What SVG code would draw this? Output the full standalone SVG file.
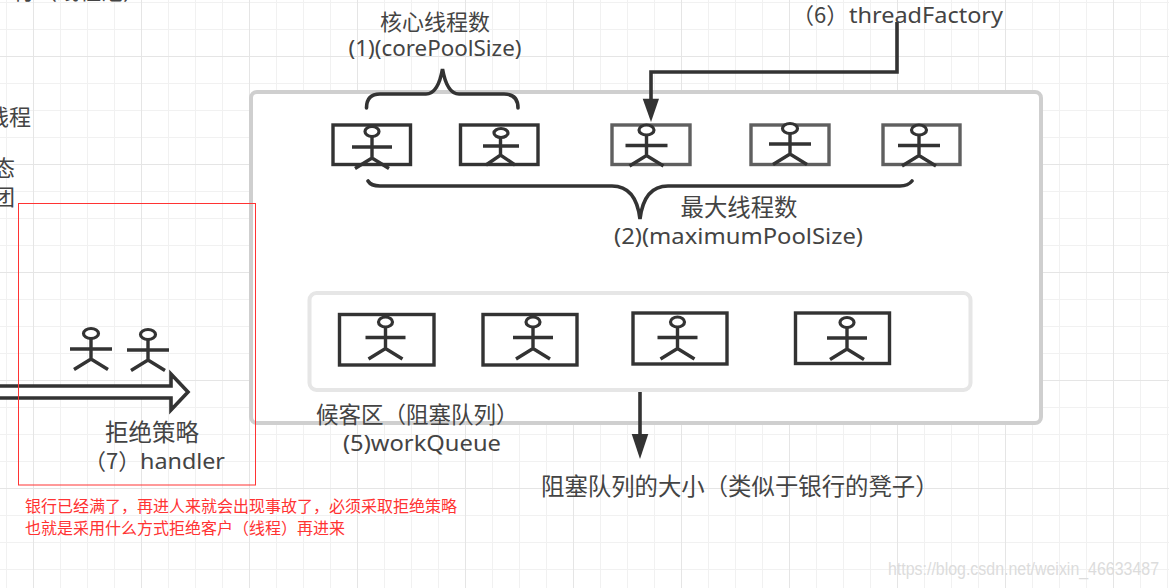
<svg xmlns="http://www.w3.org/2000/svg" width="1169" height="588" viewBox="0 0 1169 588">
<style>
text{font-family:"Noto Sans","Noto Sans CJK SC",sans-serif;fill:#444;font-size:22px}
.z{font-family:"Noto Sans CJK SC",sans-serif}
.m{text-anchor:middle}
.r{fill:#f33;font-size:16px;font-family:"Noto Sans CJK SC",sans-serif}
.box{fill:#fff;stroke:#333;stroke-width:3.4}
.g{stroke:#5f5f5f}
.a{fill:none;stroke:#333;stroke-width:3.4}
.ah{fill:#fff;stroke:#333;stroke-width:3.2}
.c{fill:none;stroke:#333;stroke-width:3.6;stroke-linecap:round}
</style>
<defs>
<pattern id="grid" width="108" height="108" patternUnits="userSpaceOnUse" x="33" y="56">
<path d="M0 27.5H108M0 54.5H108M0 81.5H108M27.5 0V108M54.5 0V108M81.5 0V108" fill="none" stroke="#f1f1f1" stroke-width="1"/>
<path d="M0 .5H108M.5 0V108" fill="none" stroke="#e5e5e5" stroke-width="1"/>
</pattern>
<g id="actor">
<ellipse cx="0" cy="0" rx="7" ry="5" class="ah"/>
<path d="M0 5V26M-20 15.500H20M-17 37L0 26.500L17 37" class="a"/>
</g>
<g id="actorw">
<ellipse cx="0" cy="0" rx="7.500" ry="5" class="ah"/>
<path d="M0 5V25M-21 15.500H21M-17 36L0 25.500L17 36" class="a"/>
</g>
</defs>
<rect width="1169" height="588" fill="#fff"/>
<rect width="1169" height="588" fill="url(#grid)"/>

<g id="left-labels">
<text class="z" x="145" y="-1" text-anchor="end">行（线程池）</text>
<text class="z" x="31" y="125" text-anchor="end">线程</text>
<text class="z" x="15" y="176" text-anchor="end">态</text>
<text class="z" x="15" y="205" text-anchor="end">团</text>
</g>

<g id="pool"><rect x="251" y="92" width="790" height="331" rx="6" fill="#fff" stroke="#cfcfcf" stroke-width="4"/></g>
<g id="queue"><rect x="309.500" y="293" width="661" height="97" rx="7" fill="#fff" stroke="#e6e6e6" stroke-width="4"/></g>

<g id="core1"><rect x="333" y="125" width="77.500" height="39.500" class="box"/><use href="#actor" x="372" y="131.500"/></g>
<g id="core2"><rect x="460.500" y="125" width="77.500" height="39.500" class="box"/><path d="M483 146H519M500.500 138V155M486 165L500.500 155L515 165" class="a"/><ellipse cx="501" cy="133" rx="7" ry="4.500" class="ah"/></g>
<g id="max3"><rect x="612" y="125" width="78" height="39.500" class="box g"/><use href="#actorw" x="646.500" y="130"/></g>
<g id="max4"><rect x="751" y="125" width="78" height="39.500" class="box g"/><use href="#actorw" x="790" y="128.500"/></g>
<g id="max5"><rect x="883" y="125" width="77" height="39.500" class="box g"/><use href="#actorw" x="919" y="130"/></g>

<g id="q1"><rect x="339.500" y="314.500" width="94.500" height="50.500" class="box"/><use href="#actor" x="385.500" y="322"/></g>
<g id="q2"><rect x="483" y="314.500" width="94" height="50.500" class="box"/><use href="#actor" x="533" y="322"/></g>
<g id="q3"><rect x="633" y="313" width="94" height="51" class="box"/><use href="#actor" x="677.500" y="322"/></g>
<g id="q4"><rect x="795.500" y="313" width="94" height="50.500" class="box"/><use href="#actor" x="847" y="322.500"/></g>

<g id="reject-actors"><use href="#actorw" x="91" y="333.500"/><use href="#actorw" x="148" y="334.500"/></g>

<g id="connectors">
<path d="M366.500 108Q366.500 94 380 94H426Q438 94 442.500 69Q447 94 459 94H504Q518 94 518 108" class="c" stroke-linecap="butt"/>
<path d="M368 181Q371 186 380 186H612Q636 186 640 219Q644 186 668 186H900Q908 186 912 181" class="c"/>
<path d="M897 22V72H651V99" fill="none" stroke="#333" stroke-width="3.600"/>
<path d="M642.700 98.700H659L651 122Z" fill="#333"/>
<path d="M640 392V435" fill="none" stroke="#333" stroke-width="3.600"/>
<path d="M631.700 434H648.300L640 459Z" fill="#333"/>
<path d="M-3 386H171V374L188 392L171 410V398H-3Z" fill="#fff" stroke="#333" stroke-width="3.600"/>
</g>

<g id="labels">
<text class="z m" x="435" y="30">核心线程数</text>
<text class="m" x="435" y="56" textLength="173" lengthAdjust="spacingAndGlyphs">(1)(corePoolSize)</text>
<text class="z" x="792" y="23">（6）</text>
<text x="849" y="23" textLength="154" lengthAdjust="spacingAndGlyphs">threadFactory</text>
<text class="z m" x="739" y="216" style="font-size:23.400px">最大线程数</text>
<text class="m" x="738.500" y="244" textLength="249" lengthAdjust="spacingAndGlyphs">(2)(maximumPoolSize)</text>
<text class="z" x="316" y="423" style="font-size:22.500px">候客区（阻塞队列）</text>
<text x="343" y="451" textLength="158" lengthAdjust="spacingAndGlyphs">(5)workQueue</text>
<text class="z" x="541" y="495" style="font-size:23.400px">阻塞队列的大小（类似于银行的凳子）</text>
<text class="z" x="105" y="441" style="font-size:23.500px">拒绝策略</text>
<text class="z" x="84" y="469">（7）</text>
<text x="140" y="469" textLength="85" lengthAdjust="spacingAndGlyphs">handler</text>
</g>

<rect id="red-frame" x="18.500" y="203.500" width="237" height="281.500" fill="none" stroke="#f33" stroke-width="1"/>
<g id="red-note">
<text class="r" x="25" y="512">银行已经满了，再进人来就会出现事故了，必须采取拒绝策略</text>
<text class="r" x="25" y="534">也就是采用什么方式拒绝客户（线程）再进来</text>
</g>
<text x="888" y="575" style="font-family:'Liberation Sans',sans-serif;font-size:18px;fill:#dcdcdc" textLength="271" lengthAdjust="spacingAndGlyphs">https://blog.csdn.net/weixin_46633487</text>
</svg>
